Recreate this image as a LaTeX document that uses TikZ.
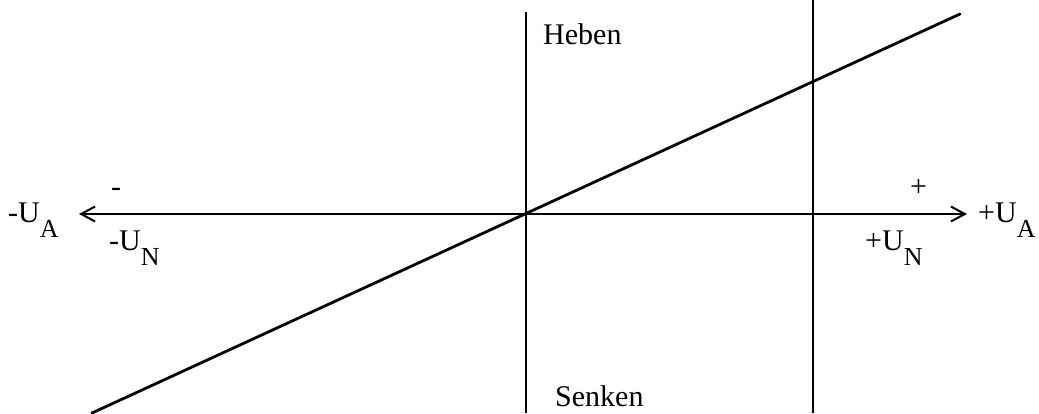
\documentclass[tikz,border=0pt]{standalone}
\usepackage{fontspec}
\setmainfont{Liberation Serif}
\usetikzlibrary{arrows.meta}
\newcommand\ulab[2]{#1\raisebox{-15pt}{\fontsize{26}{26}\selectfont #2}}
\tikzset{barbtip/.tip={Straight Barb[length=14pt,width=15pt,line width=2pt]}}
\begin{document}
\begin{tikzpicture}[x=1pt,y=-1pt,
  lbl/.style={anchor=base west,inner sep=0pt,font=\fontsize{30}{36}\selectfont},
  axisline/.style={line width=2.8pt},
  vline/.style={line width=1.6pt},
  gline/.style={line width=2.8pt}]
\useasboundingbox (0,0) rectangle (1039,413);
% coordinates
\coordinate (axL) at (79,214);
\coordinate (axR) at (967,214);
\coordinate (vTop) at (526,12);
\coordinate (vBot) at (526,413);
\coordinate (rTop) at (813,0);
\coordinate (rBot) at (813,413);
\coordinate (gA) at (92,413);
\coordinate (gB) at (960,14);
% lines
\draw[vline] (vTop) -- (vBot);
\draw[vline] (rTop) -- (rBot);
\draw[gline,line cap=round] (gA) -- (gB);
\draw[axisline,barbtip-barbtip] (axL) -- (axR);
% labels
\node[lbl] (mUA) at (8,222) {\ulab{-U}{A}};
\node[lbl] (mUN) at (109,250) {\ulab{-U}{N}};
\node[lbl] (minus) at (111,196) {-};
\node[lbl] (plus) at (910,196) {+};
\node[lbl] (pUN) at (865,250) {\ulab{+U}{N}};
\node[lbl] (pUA) at (978,222) {\ulab{+U}{A}};
\node[lbl] (heben) at (543,44) {Heben};
\node[lbl] (senken) at (555,406) {Senken};
\end{tikzpicture}
\end{document}
